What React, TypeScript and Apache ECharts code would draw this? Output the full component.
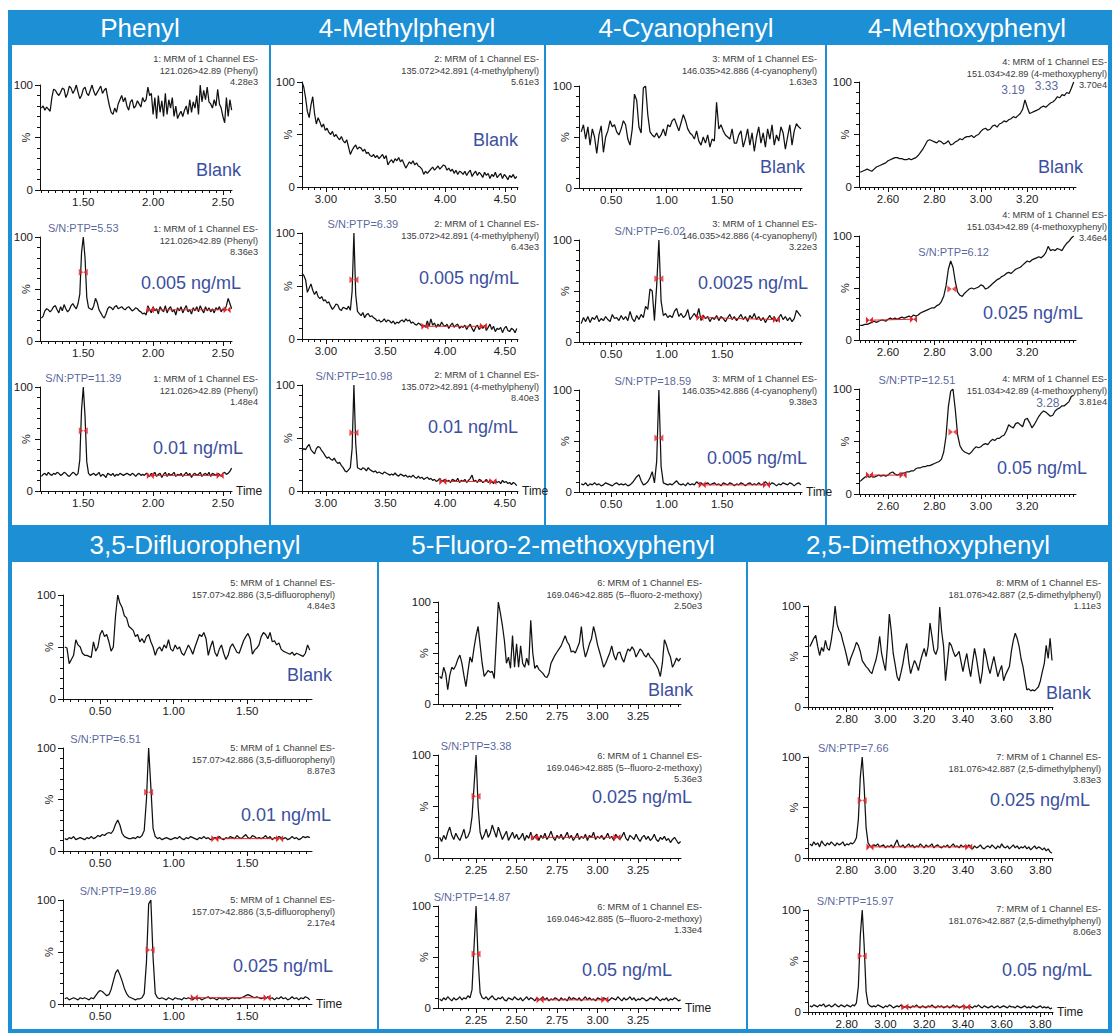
import React, { useEffect, useRef } from "react";
import * as echarts from "echarts";

const FONT = "'Liberation Sans', Arial, Helvetica, sans-serif";
const BLUE = "#1c8fd5";
const INK = "#111111";
const RED = "#e3262b";
const CONC_BLUE = "#3b4fa0";
const SN_BLUE = "#2c3b82";
const INFO_GREY = "#3a3a3a";

// ================= DATA =================
// ---- Phenyl ----
const PHENYL_T0 = 1.2;
const PHENYL_DT = 0.0125;
const PHENYL_BLANK = [
  78, 80, 76, 79, 77, 75, 88, 96, 95, 92,
  90, 93, 97, 96, 88, 92, 99, 97, 92, 95,
  100, 93, 87, 90, 96, 98, 92, 90, 95, 100,
  94, 90, 93, 96, 99, 92, 95, 97, 88, 80,
  74, 72, 78, 74, 82, 86, 90, 84, 88, 80,
  76, 84, 86, 78, 80, 85, 82, 79, 88, 84,
  86, 98, 90, 92, 72, 88, 68, 90, 74, 85,
  70, 92, 72, 86, 78, 88, 70, 80, 68, 72,
  75, 70, 76, 80, 72, 86, 74, 84, 78, 90,
  72, 100, 84, 95, 86, 98, 84, 82, 78, 86,
  80, 96, 82, 78, 70, 64, 88, 70, 86, 76,
];
const PHENYL_005 = [
  22, 24, 29, 31, 30, 28, 30, 33, 34, 30,
  27, 33, 29, 35, 31, 28, 30, 34, 36, 33,
  31, 36, 45, 85, 100, 80, 42, 32, 31, 30,
  34, 41, 37, 30, 27, 24, 22, 26, 31, 33,
  32, 30, 33, 34, 31, 32, 33, 31, 30, 32,
  33, 31, 29, 30, 32, 31, 29, 28, 26, 27,
  25, 34, 30, 27, 33, 29, 31, 26, 33, 30,
  28, 34, 27, 31, 33, 28, 30, 25, 32, 29,
  33, 27, 31, 34, 28, 30, 26, 32, 29, 33,
  28, 34, 30, 27, 33, 29, 32, 28, 31, 27,
  32, 30, 33, 28, 31, 29, 34, 41, 36, 31,
];
const PHENYL_01 = [
  14, 16, 17, 15, 18, 16, 15, 17, 16, 18,
  17, 15, 16, 18, 17, 15, 14, 16, 18, 17,
  15, 17, 30, 78, 100, 72, 28, 17, 15, 16,
  17, 15, 16, 18, 14, 16, 15, 13, 17, 16,
  15, 17, 14, 16, 15, 17, 16, 15, 16, 17,
  16, 15, 17, 16, 14, 16, 17, 15, 16, 15,
  17, 16, 14, 17, 15, 18, 14, 16, 17, 13,
  16, 18, 14, 17, 15, 16, 18, 14, 16, 15,
  17, 14, 16, 18, 15, 17, 13, 16, 17, 15,
  16, 18, 14, 16, 17, 15, 18, 14, 17, 16,
  15, 17, 16, 14, 17, 18, 16, 17, 19, 22,
];
const PHENYL_XTICKS = [1.5, 2.0, 2.5];
const PHENYL_CONC = ["Blank", "0.005 ng/mL", "0.01 ng/mL"];
const PHENYL_HEAD = ["1: MRM of 1 Channel ES-", "1: MRM of 1 Channel ES-", "1: MRM of 1 Channel ES-"];
const PHENYL_TRANSITION = "121.026>42.89 (Phenyl)";
const PHENYL_SCALE = ["4.28e3", "8.36e3", "1.48e4"];
const PHENYL_SN = [null, { x: 1.5, y: 100, t: "S/N:PTP=5.53" }, { x: 1.5, y: 100, t: "S/N:PTP=11.39" }];
const PHENYL_NOISE = [null, [1.98, 2.53, 30, 30], [1.98, 2.48, 15, 15]];
const PHENYL_PEAK = [null, [1.5, 66], [1.5, 58]];

// ---- 4-Methylphenyl ----
const METHYL_T0 = 2.8;
const METHYL_DT = 0.015;
const METHYL_BLANK = [
  100, 95, 85, 72, 66, 78, 86, 70, 60, 66,
  62, 57, 60, 54, 56, 52, 50, 53, 48, 50,
  47, 45, 48, 44, 42, 45, 38, 31, 35, 38,
  40, 36, 38, 37, 34, 36, 32, 33, 30, 29,
  31, 28, 30, 27, 29, 31, 27, 30, 21, 24,
  26, 23, 27, 25, 28, 24, 26, 22, 18, 21,
  24, 22, 25, 21, 23, 20, 19, 17, 12, 15,
  13, 15, 17, 19, 16, 18, 20, 17, 19, 21,
  20, 16, 18, 15, 17, 13, 16, 12, 15, 14,
  12, 15, 11, 14, 16, 10, 13, 15, 11, 14,
  12, 9, 14, 11, 13, 8, 12, 10, 14, 9,
  11, 13, 8, 12, 10, 7, 11, 9, 12, 8, 10,
];
const METHYL_005 = [
  62, 60, 56, 44, 48, 52, 46, 42, 45, 40,
  38, 40, 36, 37, 34, 35, 31, 28, 30, 33,
  32, 28, 27, 30, 29, 28, 31, 27, 45, 100,
  42, 26, 24, 22, 25, 20, 23, 24, 21, 22,
  20, 19, 17, 18, 16, 17, 19, 16, 18, 17,
  15, 17, 14, 16, 15, 17, 18, 16, 19, 17,
  18, 15, 16, 14, 13, 15, 14, 12, 13, 11,
  17, 12, 19, 13, 15, 11, 14, 12, 16, 13,
  12, 14, 10, 13, 15, 11, 13, 14, 10, 12,
  11, 13, 9, 12, 14, 10, 7, 11, 13, 9,
  12, 10, 13, 8, 11, 14, 9, 12, 7, 10,
  9, 11, 6, 10, 12, 8, 7, 10, 9, 6, 10,
];
const METHYL_01 = [
  38, 40, 39, 42, 44, 39, 37, 35, 40, 42,
  41, 38, 36, 33, 31, 32, 30, 29, 31, 28,
  26, 27, 24, 22, 19, 18, 20, 22, 40, 100,
  45, 22, 21, 20, 22, 21, 19, 22, 20, 19,
  18, 19, 17, 18, 17, 16, 18, 17, 16, 15,
  16, 15, 17, 15, 14, 16, 15, 14, 15, 13,
  14, 13, 15, 13, 12, 14, 12, 13, 11, 12,
  13, 11, 12, 10, 11, 9, 10, 12, 9, 10,
  11, 9, 10, 8, 11, 10, 9, 12, 8, 10,
  9, 11, 8, 10, 12, 15, 9, 10, 8, 11,
  10, 8, 9, 11, 8, 10, 9, 7, 10, 8,
  9, 7, 10, 8, 9, 7, 8, 6, 8, 7, 5,
];
const METHYL_XTICKS = [3.0, 3.5, 4.0, 4.5];
const METHYL_CONC = ["Blank", "0.005 ng/mL", "0.01 ng/mL"];
const METHYL_HEAD = ["2: MRM of 1 Channel ES-", "2: MRM of 1 Channel ES-", "2: MRM of 1 Channel ES-"];
const METHYL_TRANSITION = "135.072>42.891 (4-methylphenyl)";
const METHYL_SCALE = ["5.61e3", "6.43e3", "8.40e3"];
const METHYL_SN = [null, { x: 3.235, y: 100, t: "S/N:PTP=6.39" }, { x: 3.235, y: 100, t: "S/N:PTP=10.98" }];
const METHYL_NOISE = [null, [3.83, 4.32, 12, 12], [3.98, 4.4, 9, 9]];
const METHYL_PEAK = [null, [3.235, 56], [3.235, 55]];

// ---- 4-Cyanophenyl ----
const CYANO_T0 = 0.23;
const CYANO_DT = 0.02;
const CYANO_BLANK = [
  55, 62, 48, 60, 42, 58, 50, 34, 52, 61,
  35, 50, 56, 66, 60, 62, 55, 52, 58, 66,
  62, 48, 42, 58, 92, 86, 60, 54, 98, 100,
  72, 55, 52, 50, 54, 49, 52, 58, 51, 62,
  60, 66, 68, 62, 56, 64, 72, 66, 58, 54,
  52, 48, 56, 46, 42, 50, 44, 52, 40, 48,
  46, 84, 58, 62, 56, 52, 50, 48, 58, 44,
  44, 52, 56, 40, 48, 58, 42, 54, 36, 50,
  60, 44, 54, 40, 58, 48, 62, 42, 52, 46,
  60, 54, 38, 50, 62, 42, 56, 63, 60, 58,
];
const CYANO_0025 = [
  18, 24, 20, 25, 19, 24, 22, 26, 20, 23,
  21, 25, 22, 20, 27, 23, 24, 21, 26, 22,
  25, 21, 30, 23, 20, 26, 22, 27, 24, 35,
  32, 52, 50, 21, 55, 100, 40, 26, 28, 24,
  26, 24, 30, 33, 25, 28, 24, 26, 32, 22,
  25, 28, 24, 33, 21, 26, 23, 25, 20, 24,
  22, 26, 21, 25, 23, 20, 24, 27, 22, 25,
  21, 24, 27, 22, 25, 20, 26, 23, 28, 22,
  25, 21, 24, 19, 23, 26, 22, 25, 20, 24,
  27, 22, 25, 21, 24, 20, 23, 31, 28, 25,
];
const CYANO_005 = [
  8, 7, 9, 6, 8, 7, 9, 7, 8, 6,
  7, 9, 8, 7, 6, 8, 9, 7, 8, 7,
  8, 6, 7, 9, 12, 15, 17, 11, 7, 8,
  10, 14, 20, 9, 30, 100, 25, 9, 8, 7,
  8, 7, 9, 11, 8, 7, 8, 6, 9, 7,
  8, 7, 10, 8, 9, 7, 8, 9, 7, 8,
  9, 7, 8, 6, 9, 8, 7, 9, 8, 6,
  8, 7, 9, 8, 6, 8, 9, 7, 8, 7,
  9, 7, 8, 10, 8, 7, 9, 8, 6, 8,
  7, 9, 8, 7, 9, 8, 6, 8, 9, 7,
];
const CYANO_XTICKS = [0.5, 1.0, 1.5];
const CYANO_CONC = ["Blank", "0.0025 ng/mL", "0.005 ng/mL"];
const CYANO_HEAD = ["3: MRM of 1 Channel ES-", "3: MRM of 1 Channel ES-", "3: MRM of 1 Channel ES-"];
const CYANO_TRANSITION = "146.035>42.886 (4-cyanophenyl)";
const CYANO_SCALE = ["1.63e3", "3.22e3", "9.38e3"];
const CYANO_SN = [null, { x: 0.93, y: 100, t: "S/N:PTP=6.02" }, { x: 0.93, y: 100, t: "S/N:PTP=18.59" }];
const CYANO_NOISE = [null, [1.3, 1.99, 24, 22], [1.32, 1.9, 7, 7]];
const CYANO_PEAK = [null, [0.93, 62], [0.93, 53]];

// ---- 4-Methoxyphenyl ----
const METHOXY_T0 = 2.48;
const METHOXY_DT = 0.01;
const METHOXY_BLANK = [
  14, 15, 16, 17, 16, 15, 17, 19, 20, 21,
  22, 23, 25, 26, 27, 28, 28, 27, 27, 26,
  26, 27, 26, 27, 28, 30, 33, 36, 40, 44,
  45, 44, 43, 42, 44, 43, 41, 42, 44, 40,
  41, 43, 44, 46, 45, 47, 48, 48, 49, 47,
  49, 50, 53, 55, 56, 54, 55, 58, 59, 57,
  60, 61, 63, 62, 64, 65, 67, 66, 68, 70,
  74, 83, 76, 70, 71, 72, 73, 74, 76, 77,
  76, 78, 80, 81, 83, 86, 85, 88, 87, 90,
  89, 94, 100,
];
const METHOXY_025 = [
  14, 14, 15, 15, 16, 17, 18, 17, 18, 19,
  19, 18, 20, 21, 20, 21, 20, 21, 22, 21,
  22, 23, 22, 24, 23, 24, 26, 27, 28, 29,
  30, 31, 31, 33, 34, 37, 42, 52, 68, 76,
  70, 56, 46, 43, 42, 45, 47, 49, 50, 49,
  50, 51, 53, 52, 49, 50, 52, 54, 56, 58,
  59, 61, 62, 64, 65, 64, 66, 68, 69, 70,
  72, 74, 76, 75, 77, 78, 79, 80, 79, 81,
  84, 90, 86, 87, 86, 88, 87, 86, 90, 93,
  95, 98, 100,
];
const METHOXY_05 = [
  12, 14, 16, 17, 16, 17, 16, 17, 18, 17,
  18, 17, 18, 20, 21, 19, 18, 19, 20, 20,
  21, 21, 22, 22, 24, 25, 25, 26, 26, 27,
  27, 28, 29, 30, 31, 33, 40, 55, 83, 98,
  100, 80, 56, 46, 42, 40, 39, 38, 40, 43,
  45, 44, 45, 47, 48, 47, 50, 52, 51, 53,
  53, 55, 56, 60, 66, 64, 63, 67, 68, 66,
  64, 71, 72, 68, 63, 66, 70, 74, 77, 79,
  78, 76, 74, 75, 79, 81, 82, 84, 84, 86,
  88, 93, 94,
];
const METHOXY_XTICKS = [2.6, 2.8, 3.0, 3.2];
const METHOXY_CONC = ["Blank", "0.025 ng/mL", "0.05 ng/mL"];
const METHOXY_HEAD = ["4: MRM of 1 Channel ES-", "4: MRM of 1 Channel ES-", "4: MRM of 1 Channel ES-"];
const METHOXY_TRANSITION = "151.034>42.89 (4-methoxyphenyl)";
const METHOXY_SCALE = ["3.70e4", "3.46e4", "3.81e4"];
const METHOXY_SN = [null, { x: 2.87, y: 76, t: "S/N:PTP=6.12" }, { x: 2.88, y: 100, t: "S/N:PTP=12.51" }];
const METHOXY_NOISE = [null, [2.52, 2.71, 19, 20], [2.52, 2.665, 18, 18]];
const METHOXY_PEAK = [null, [2.875, 49], [2.88, 59]];
const METHOXY_RT = [
  [{ x: 3.19, y: 83, t: "3.19" }, { x: 3.33, y: 86, t: "3.33" }],
  [],
  [{ x: 3.28, y: 78, t: "3.28" }],
];

// ---- 3,5-Difluorophenyl ----
const DIFLUORO_T0 = 0.26;
const DIFLUORO_DT = 0.015;
const DIFLUORO_BLANK = [
  50, 49, 34, 38, 42, 57, 52, 50, 44, 42,
  42, 41, 40, 55, 46, 50, 62, 66, 60, 62,
  55, 46, 50, 80, 100, 92, 88, 80, 78, 70,
  68, 66, 60, 62, 55, 58, 54, 60, 62, 55,
  50, 42, 48, 50, 46, 52, 49, 57, 48, 46,
  52, 48, 50, 44, 42, 47, 52, 48, 43, 50,
  56, 62, 60, 64, 58, 42, 50, 56, 45, 41,
  48, 52, 44, 38, 42, 50, 53, 49, 45, 44,
  50, 56, 60, 63, 58, 43, 47, 49, 52, 60,
  64, 62, 58, 64, 55, 56, 52, 54, 48, 46,
  45, 44, 43, 45, 42, 44, 43, 42, 41, 44,
  52, 47,
];
const DIFLUORO_01 = [
  12, 11, 13, 12, 14, 11, 12, 13, 12, 11,
  13, 12, 14, 12, 13, 15, 14, 16, 15, 17,
  18, 17, 20, 26, 30, 25, 17, 14, 13, 12,
  12, 13, 12, 14, 13, 15, 20, 50, 100, 62,
  22, 14, 12, 13, 11, 12, 13, 12, 11, 12,
  13, 12, 14, 12, 11, 13, 12, 14, 13, 12,
  11, 13, 12, 14, 12, 13, 11, 12, 13, 12,
  14, 12, 11, 13, 12, 14, 13, 12, 15, 13,
  12, 14, 16, 13, 12, 15, 14, 12, 13, 12,
  13, 15, 12, 14, 11, 13, 12, 14, 13, 12,
  13, 11, 12, 14, 12, 13, 11, 12, 14, 13,
  14, 13,
];
const DIFLUORO_025 = [
  5, 6, 4, 5, 6, 5, 4, 6, 5, 6,
  5, 4, 6, 5, 8, 11, 13, 12, 10, 8,
  9, 14, 22, 30, 33, 28, 22, 15, 10, 7,
  6, 5, 4, 5, 5, 6, 10, 40, 96, 100,
  45, 10, 6, 5, 6, 5, 4, 6, 5, 4,
  6, 5, 5, 4, 6, 5, 6, 5, 4, 6,
  5, 6, 4, 5, 6, 7, 5, 6, 5, 4,
  6, 5, 5, 6, 4, 5, 6, 5, 6, 5,
  6, 7, 8, 9, 8, 7, 6, 7, 6, 5,
  6, 5, 7, 5, 6, 4, 6, 5, 7, 5,
  6, 4, 5, 7, 5, 6, 4, 6, 5, 7,
  6, 4,
];
const DIFLUORO_XTICKS = [0.5, 1.0, 1.5];
const DIFLUORO_CONC = ["Blank", "0.01 ng/mL", "0.025 ng/mL"];
const DIFLUORO_HEAD = ["5: MRM of 1 Channel ES-", "5: MRM of 1 Channel ES-", "5: MRM of 1 Channel ES-"];
const DIFLUORO_TRANSITION = "157.07>42.886 (3,5-difluorophenyl)";
const DIFLUORO_SCALE = ["4.84e3", "8.87e3", "2.17e4"];
const DIFLUORO_SN = [null, { x: 0.83, y: 100, t: "S/N:PTP=6.51" }, { x: 0.84, y: 100, t: "S/N:PTP=19.86" }];
const DIFLUORO_NOISE = [null, [1.28, 1.72, 12, 12], [1.14, 1.635, 6, 6]];
const DIFLUORO_PEAK = [null, [0.83, 57], [0.84, 52]];

// ---- 5-Fluoro-2-methoxyphenyl ----
const FLUOROMETHOXY_T0 = 2.025;
const FLUOROMETHOXY_DT = 0.0125;
const FLUOROMETHOXY_BLANK = [
  27, 25, 36, 30, 14, 28, 36, 34, 38, 44,
  48, 40, 28, 17, 32, 46, 41, 55, 67, 76,
  58, 40, 27, 30, 33, 31, 32, 25, 63, 100,
  89, 77, 62, 40, 46, 35, 67, 36, 59, 36,
  57, 40, 36, 45, 38, 82, 50, 35, 38, 34,
  32, 30, 27, 26, 30, 40, 44, 48, 51, 54,
  57, 62, 67, 61, 58, 51, 52, 50, 55, 60,
  76, 56, 46, 52, 59, 64, 76, 68, 58, 51,
  44, 36, 40, 45, 50, 57, 48, 43, 50, 51,
  45, 41, 48, 54, 52, 56, 53, 46, 50, 54,
  52, 48, 46, 50, 46, 44, 41, 38, 34, 27,
  40, 63, 58, 51, 46, 36, 40, 45, 42, 45,
];
const FLUOROMETHOXY_025 = [
  20, 16, 22, 18, 25, 30, 22, 18, 24, 20,
  17, 22, 28, 19, 21, 26, 40, 70, 100, 50,
  25, 18, 22, 28, 20, 24, 32, 26, 20, 30,
  24, 18, 22, 26, 17, 21, 25, 19, 23, 18,
  20, 24, 17, 22, 19, 25, 18, 21, 23, 17,
  22, 19, 24, 18, 21, 26, 20, 17, 22, 19,
  23, 18, 21, 25, 19, 22, 17, 20, 24, 18,
  21, 19, 23, 17, 22, 20, 25, 18, 21, 19,
  22, 18, 20, 24, 19, 21, 17, 23, 20, 18,
  21, 25, 19, 17, 22, 20, 18, 23, 19, 16,
  20, 22, 18, 21, 17, 19, 23, 18, 16, 20,
  18, 21, 17, 19, 15, 18, 20, 17, 14, 16,
];
const FLUOROMETHOXY_05 = [
  9, 7, 10, 8, 11, 9, 7, 10, 8, 9,
  11, 8, 10, 9, 12, 10, 18, 60, 100, 48,
  15, 10, 9, 11, 8, 10, 12, 9, 8, 10,
  9, 11, 8, 7, 10, 9, 8, 11, 9, 8,
  10, 7, 9, 11, 8, 10, 9, 7, 10, 8,
  9, 11, 8, 10, 7, 9, 8, 10, 9, 7,
  10, 8, 9, 7, 11, 8, 10, 9, 8, 10,
  7, 9, 11, 8, 10, 8, 9, 7, 10, 9,
  8, 10, 9, 7, 8, 10, 9, 8, 11, 9,
  7, 10, 8, 9, 11, 8, 10, 7, 9, 8,
  10, 9, 7, 8, 10, 9, 8, 11, 9, 7,
  9, 8, 10, 7, 9, 8, 10, 9, 7, 8,
];
const FLUOROMETHOXY_XTICKS = [2.25, 2.5, 2.75, 3.0, 3.25];
const FLUOROMETHOXY_CONC = ["Blank", "0.025 ng/mL", "0.05 ng/mL"];
const FLUOROMETHOXY_HEAD = ["6: MRM of 1 Channel ES-", "6: MRM of 1 Channel ES-", "6: MRM of 1 Channel ES-"];
const FLUOROMETHOXY_TRANSITION = "169.046>42.885 (5--fluoro-2-methoxy)";
const FLUOROMETHOXY_SCALE = ["2.50e3", "5.36e3", "1.33e4"];
const FLUOROMETHOXY_SN = [null, { x: 2.25, y: 100, t: "S/N:PTP=3.38" }, { x: 2.25, y: 100, t: "S/N:PTP=14.87" }];
const FLUOROMETHOXY_NOISE = [null, [2.61, 3.12, 20, 20], [2.645, 3.045, 8, 8]];
const FLUOROMETHOXY_PEAK = [null, [2.25, 60], [2.25, 53]];

// ---- 2,5-Dimethoxyphenyl ----
const DIMETHOXY_T0 = 2.61;
const DIMETHOXY_DT = 0.01;
const DIMETHOXY_BLANK = [
  60, 64, 68, 71, 60, 51, 59, 55, 66, 58,
  56, 66, 80, 100, 82, 76, 73, 65, 58, 50,
  41, 48, 53, 58, 64, 61, 55, 46, 43, 40,
  38, 35, 33, 40, 46, 55, 70, 53, 44, 36,
  60, 92, 75, 53, 42, 30, 26, 34, 43, 55,
  63, 45, 33, 40, 46, 42, 36, 45, 52, 58,
  50, 60, 83, 70, 56, 52, 58, 99, 75, 60,
  26, 45, 64, 61, 55, 50, 52, 55, 45, 35,
  45, 53, 40, 30, 45, 58, 48, 35, 23, 35,
  58, 50, 40, 33, 42, 50, 40, 30, 36, 41,
  26, 32, 36, 40, 55, 66, 73, 68, 60, 48,
  40, 28, 17, 18, 16, 17, 16, 18, 20, 26,
  35, 43, 61, 48, 68, 46,
];
const DIMETHOXY_025 = [
  14, 12, 16, 13, 15, 11, 17, 14, 12, 15,
  13, 16, 14, 12, 15, 13, 14, 16, 12, 14,
  13, 15, 14, 16, 20, 38, 80, 100, 70, 30,
  15, 12, 11, 13, 12, 14, 11, 12, 13, 10,
  12, 11, 13, 10, 14, 18, 12, 11, 13, 10,
  12, 14, 11, 13, 10, 12, 11, 14, 12, 10,
  13, 11, 12, 14, 10, 12, 13, 11, 10, 12,
  11, 13, 10, 12, 14, 11, 12, 10, 13, 11,
  12, 10, 13, 11, 9, 12, 10, 11, 13, 10,
  9, 11, 12, 10, 13, 11, 9, 12, 10, 14,
  11, 10, 12, 9, 11, 13, 10, 12, 9, 11,
  10, 12, 9, 11, 8, 10, 12, 9, 11, 10,
  8, 10, 7, 9, 6, 5,
];
const DIMETHOXY_05 = [
  6, 5, 7, 6, 5, 7, 6, 8, 5, 6,
  7, 5, 6, 8, 6, 5, 7, 6, 5, 7,
  6, 5, 7, 6, 9, 25, 75, 100, 65, 20,
  8, 6, 5, 6, 5, 7, 6, 5, 4, 6,
  5, 7, 6, 4, 5, 6, 5, 7, 4, 5,
  6, 5, 4, 6, 5, 7, 5, 4, 6, 5,
  4, 6, 5, 7, 5, 4, 6, 5, 6, 4,
  5, 6, 4, 5, 7, 5, 6, 4, 5, 6,
  5, 4, 6, 5, 4, 6, 5, 7, 5, 4,
  6, 5, 4, 5, 6, 4, 5, 6, 4, 5,
  6, 5, 4, 6, 5, 5, 4, 6, 5, 4,
  5, 6, 4, 5, 4, 6, 5, 4, 5, 6,
  4, 5, 4, 5, 3, 4,
];
const DIMETHOXY_XTICKS = [2.8, 3.0, 3.2, 3.4, 3.6, 3.8];
const DIMETHOXY_CONC = ["Blank", "0.025 ng/mL", "0.05 ng/mL"];
const DIMETHOXY_HEAD = ["8: MRM of 1 Channel ES-", "7: MRM of 1 Channel ES-", "7: MRM of 1 Channel ES-"];
const DIMETHOXY_TRANSITION = "181.076>42.887 (2,5-dimethylphenyl)";
const DIMETHOXY_SCALE = ["1.11e3", "3.83e3", "8.06e3"];
const DIMETHOXY_SN = [null, { x: 2.88, y: 100, t: "S/N:PTP=7.66" }, { x: 2.88, y: 100, t: "S/N:PTP=15.97" }];
const DIMETHOXY_NOISE = [null, [2.92, 3.43, 11, 11], [3.1, 3.42, 5, 5]];
const DIMETHOXY_PEAK = [null, [2.88, 57], [2.88, 55]];

const Y_TICK_LABELS = [0, 100];

const PANEL_DATA = [
  { title: "Phenyl", t0: PHENYL_T0, dt: PHENYL_DT, traces: [PHENYL_BLANK, PHENYL_005, PHENYL_01], xTicks: PHENYL_XTICKS, conc: PHENYL_CONC, head: PHENYL_HEAD, transition: PHENYL_TRANSITION, scale: PHENYL_SCALE, sn: PHENYL_SN, noise: PHENYL_NOISE, peak: PHENYL_PEAK, rt: [[], [], []] },
  { title: "4-Methylphenyl", t0: METHYL_T0, dt: METHYL_DT, traces: [METHYL_BLANK, METHYL_005, METHYL_01], xTicks: METHYL_XTICKS, conc: METHYL_CONC, head: METHYL_HEAD, transition: METHYL_TRANSITION, scale: METHYL_SCALE, sn: METHYL_SN, noise: METHYL_NOISE, peak: METHYL_PEAK, rt: [[], [], []] },
  { title: "4-Cyanophenyl", t0: CYANO_T0, dt: CYANO_DT, traces: [CYANO_BLANK, CYANO_0025, CYANO_005], xTicks: CYANO_XTICKS, conc: CYANO_CONC, head: CYANO_HEAD, transition: CYANO_TRANSITION, scale: CYANO_SCALE, sn: CYANO_SN, noise: CYANO_NOISE, peak: CYANO_PEAK, rt: [[], [], []] },
  { title: "4-Methoxyphenyl", t0: METHOXY_T0, dt: METHOXY_DT, traces: [METHOXY_BLANK, METHOXY_025, METHOXY_05], xTicks: METHOXY_XTICKS, conc: METHOXY_CONC, head: METHOXY_HEAD, transition: METHOXY_TRANSITION, scale: METHOXY_SCALE, sn: METHOXY_SN, noise: METHOXY_NOISE, peak: METHOXY_PEAK, rt: METHOXY_RT },
  { title: "3,5-Difluorophenyl", t0: DIFLUORO_T0, dt: DIFLUORO_DT, traces: [DIFLUORO_BLANK, DIFLUORO_01, DIFLUORO_025], xTicks: DIFLUORO_XTICKS, conc: DIFLUORO_CONC, head: DIFLUORO_HEAD, transition: DIFLUORO_TRANSITION, scale: DIFLUORO_SCALE, sn: DIFLUORO_SN, noise: DIFLUORO_NOISE, peak: DIFLUORO_PEAK, rt: [[], [], []] },
  { title: "5-Fluoro-2-methoxyphenyl", t0: FLUOROMETHOXY_T0, dt: FLUOROMETHOXY_DT, traces: [FLUOROMETHOXY_BLANK, FLUOROMETHOXY_025, FLUOROMETHOXY_05], xTicks: FLUOROMETHOXY_XTICKS, conc: FLUOROMETHOXY_CONC, head: FLUOROMETHOXY_HEAD, transition: FLUOROMETHOXY_TRANSITION, scale: FLUOROMETHOXY_SCALE, sn: FLUOROMETHOXY_SN, noise: FLUOROMETHOXY_NOISE, peak: FLUOROMETHOXY_PEAK, rt: [[], [], []] },
  { title: "2,5-Dimethoxyphenyl", t0: DIMETHOXY_T0, dt: DIMETHOXY_DT, traces: [DIMETHOXY_BLANK, DIMETHOXY_025, DIMETHOXY_05], xTicks: DIMETHOXY_XTICKS, conc: DIMETHOXY_CONC, head: DIMETHOXY_HEAD, transition: DIMETHOXY_TRANSITION, scale: DIMETHOXY_SCALE, sn: DIMETHOXY_SN, noise: DIMETHOXY_NOISE, peak: DIMETHOXY_PEAK, rt: [[], [], []] },
];

// ================= LAYOUT =================
const PANEL_LAYOUT = [
  { hx: 140, hy: 28, left: 40, right: 232, tops: [85, 237, 387], bottoms: [190, 341, 491], xMin: 1.19, xMax: 2.565, minorStep: 0.05, infoRight: 258, infoY: [59, 229, 379], concPos: [[241, 170], [241, 283], [243, 448]], snDx: [0, 0, 0], time: true, rtOff: [] },
  { hx: 407, hy: 28, left: 302, right: 518, tops: [82, 233, 385], bottoms: [187, 339, 491], xMin: 2.8, xMax: 4.61, minorStep: 0.05, infoRight: 539, infoY: [59, 224, 375], concPos: [[518, 140], [519, 278], [518, 427]], snDx: [0, 9, 0], time: true, rtOff: [] },
  { hx: 686, hy: 28, left: 579, right: 802, tops: [86, 240, 390], bottoms: [188, 342, 492], xMin: 0.21, xMax: 2.22, minorStep: 0.05, infoRight: 817, infoY: [59, 224, 379], concPos: [[805, 167], [808, 283], [807, 458]], snDx: [0, -9, -6], time: true, rtOff: [] },
  { hx: 967, hy: 28, left: 859, right: 1076, tops: [82, 236, 389], bottoms: [187, 340, 494], xMin: 2.475, xMax: 3.41, minorStep: 0.02, infoRight: 1107, infoY: [62, 215, 379], concPos: [[1083, 167], [1083, 313], [1087, 468]], snDx: [0, 3, -36], time: false, rtOff: [[[-12, -1], [-11, -2]], [], [[2, -1]]] },
  { hx: 195, hy: 545, left: 63, right: 312, tops: [595, 748, 900], bottoms: [699, 851, 1004], xMin: 0.248, xMax: 1.94, minorStep: 0.05, infoRight: 335, infoY: [583, 748, 900], concPos: [[332, 675], [331, 815], [333, 966]], snDx: [0, -43, -32], time: true, rtOff: [] },
  { hx: 563, hy: 545, left: 438, right: 681, tops: [602, 755, 906], bottoms: [704, 858, 1008], xMin: 2.015, xMax: 3.515, minorStep: 0.05, infoRight: 702, infoY: [583, 756, 907], concPos: [[693, 690], [692, 797], [672, 970]], snDx: [0, 0, -4], time: true, rtOff: [] },
  { hx: 928, hy: 545, left: 808, right: 1053, tops: [606, 757, 910], bottoms: [707, 858, 1012], xMin: 2.6, xMax: 3.865, minorStep: 0.02, infoRight: 1101, infoY: [583, 757, 909], concPos: [[1091, 693], [1090, 800], [1092, 970]], snDx: [0, -9, -7], time: true, rtOff: [] },
];

const FRAME_BLUE = [
  [8, 10, 1104, 519],
  [8, 527, 1104, 506],
];
const FRAME_WHITE = [
  [12, 45, 257, 480],
  [271, 45, 273, 480],
  [546, 45, 279, 480],
  [827, 45, 281, 480],
  [12, 562, 365, 467],
  [379, 562, 367, 467],
  [748, 562, 360, 467],
];

const BOWTIE = "path://M0,0L5,4L0,8ZM10,0L5,4L10,8Z";

function buildOption() {
  const grid: any[] = [];
  const xAxis: any[] = [];
  const yAxis: any[] = [];
  const series: any[] = [];
  const graphic: any[] = [];

  FRAME_BLUE.forEach(([x, y, w, h]) =>
    graphic.push({ type: "rect", z: -10, shape: { x, y, width: w, height: h }, style: { fill: BLUE } })
  );
  FRAME_WHITE.forEach(([x, y, w, h]) =>
    graphic.push({ type: "rect", z: -9, shape: { x, y, width: w, height: h }, style: { fill: "#ffffff" } })
  );

  PANEL_DATA.forEach((d, pi) => {
    const p = PANEL_LAYOUT[pi];
    graphic.push({
      type: "text", z: 20, x: p.hx, y: p.hy,
      style: { text: d.title, fill: "#ffffff", fontSize: 26, fontFamily: FONT, align: "center", verticalAlign: "middle" },
    });
    const minor: number[] = [];
    const k0 = Math.ceil(p.xMin / p.minorStep - 1e-6);
    for (let k = k0; k * p.minorStep <= p.xMax + 1e-6; k++) minor.push(+(k * p.minorStep).toFixed(4));

    d.traces.forEach((ys, ci) => {
      const g = grid.length;
      const top = p.tops[ci];
      const height = p.bottoms[ci] - top;
      grid.push({ left: p.left, top, width: p.right - p.left, height, containLabel: false });
      const showTime = ci === 2 && p.time;
      xAxis.push({
        type: "value", gridIndex: g, min: p.xMin, max: p.xMax, position: "bottom",
        axisLine: { show: true, onZero: false, lineStyle: { color: INK, width: 1 } },
        axisTick: { show: true, customValues: d.xTicks, length: 5, lineStyle: { color: INK, width: 1 } },
        axisLabel: { show: true, customValues: d.xTicks, formatter: (v: number) => v.toFixed(2), margin: 6, fontSize: 11.5, color: "#1a1a1a", fontFamily: FONT },
        splitLine: { show: false },
        name: showTime ? "Time" : "", nameLocation: "end", nameGap: 4,
        nameTextStyle: { fontSize: 12, color: "#1a1a1a", fontFamily: FONT, align: "left", verticalAlign: "middle" },
      });
      xAxis.push({
        type: "value", gridIndex: g, min: p.xMin, max: p.xMax, position: "bottom",
        axisLine: { show: false }, axisLabel: { show: false }, splitLine: { show: false },
        axisTick: { show: true, customValues: minor, length: 3, lineStyle: { color: INK, width: 1 } },
      });
      yAxis.push({
        type: "value", gridIndex: g, min: 0, max: 100, interval: 50, position: "left",
        axisLine: { show: true, onZero: false, lineStyle: { color: INK, width: 1 } },
        axisTick: { show: true, length: 5, lineStyle: { color: INK, width: 1 } },
        minorTick: { show: true, splitNumber: 5, length: 3, lineStyle: { color: INK, width: 1 } },
        axisLabel: { show: true, customValues: Y_TICK_LABELS, formatter: (v: number) => String(v), margin: 7, fontSize: 11.5, color: "#1a1a1a", fontFamily: FONT },
        splitLine: { show: false },
      });
      yAxis.push({
        type: "value", gridIndex: g, min: 0, max: 100, position: "left",
        axisLine: { show: false }, axisTick: { show: false }, splitLine: { show: false },
        axisLabel: { show: true, customValues: [50], formatter: () => "%", rotate: 90, margin: 9, fontSize: 11, color: "#1a1a1a", fontFamily: FONT },
      });

      series.push({
        type: "line", xAxisIndex: 2 * g, yAxisIndex: 2 * g, silent: true, z: 3,
        data: ys.map((v, i) => [d.t0 + i * d.dt, v]),
        symbol: "none", showSymbol: false,
        lineStyle: { color: INK, width: 1.25 },
      });

      const nz: any = d.noise[ci];
      if (nz) {
        series.push({
          type: "line", xAxisIndex: 2 * g, yAxisIndex: 2 * g, silent: true, z: 4,
          data: [[nz[0], nz[2]], [nz[1], nz[3]]],
          symbol: BOWTIE, symbolSize: [7, 7], showSymbol: true,
          lineStyle: { color: RED, width: 1 }, itemStyle: { color: RED },
        });
      }
      const pk: any = d.peak[ci];
      if (pk) {
        series.push({
          type: "scatter", xAxisIndex: 2 * g, yAxisIndex: 2 * g, silent: true, z: 4,
          data: [[pk[0], pk[1]]], symbol: BOWTIE, symbolSize: [9, 7], itemStyle: { color: RED },
        });
      }
      const sn: any = d.sn[ci];
      if (sn) {
        series.push({
          type: "scatter", xAxisIndex: 2 * g, yAxisIndex: 2 * g, silent: true, z: 5, clip: false,
          data: [[sn.x, sn.y]], symbolSize: 1, itemStyle: { color: "rgba(0,0,0,0)" },
          label: { show: true, position: "top", distance: 3, offset: [p.snDx[ci], 0], formatter: sn.t, fontSize: 11, color: SN_BLUE, fontFamily: FONT },
        });
      }
      (d.rt[ci] || []).forEach((r: any, ri: number) => {
        const off = (p.rtOff[ci] && p.rtOff[ci][ri]) || [0, 0];
        series.push({
          type: "scatter", xAxisIndex: 2 * g, yAxisIndex: 2 * g, silent: true, z: 5, clip: false,
          data: [[r.x, r.y]], symbolSize: 1, itemStyle: { color: "rgba(0,0,0,0)" },
          label: { show: true, position: "top", distance: 2, offset: off, formatter: r.t, fontSize: 12, color: SN_BLUE, fontFamily: FONT },
        });
      });

      graphic.push({
        type: "text", z: 20, x: p.infoRight, y: p.infoY[ci] - 5.75,
        style: {
          text: `${d.head[ci]}\n${d.transition}\n${d.scale[ci]}`,
          fill: INFO_GREY, fontSize: 9.2, fontFamily: FONT, lineHeight: 11.5, align: "right", verticalAlign: "top",
        },
      });
      graphic.push({
        type: "text", z: 20, x: p.concPos[ci][0], y: p.concPos[ci][1],
        style: { text: d.conc[ci], fill: CONC_BLUE, fontSize: 18, fontFamily: FONT, align: "right", verticalAlign: "middle" },
      });
    });
  });

  return {
    animation: false,
    backgroundColor: "#ffffff",
    textStyle: { fontFamily: FONT },
    grid, xAxis, yAxis, series,
    graphic: { elements: graphic },
  };
}

export default function App() {
  const ref = useRef<HTMLDivElement>(null);
  useEffect(() => {
    const chart = echarts.init(ref.current as HTMLDivElement, null, { renderer: "svg", width: 1117, height: 1033 });
    chart.setOption(buildOption() as any);
    return () => chart.dispose();
  }, []);
  return (
    <div
      ref={ref}
      style={{ position: "absolute", left: 0, top: 0, width: 1117, height: 1033, background: "#ffffff" }}
    />
  );
}
